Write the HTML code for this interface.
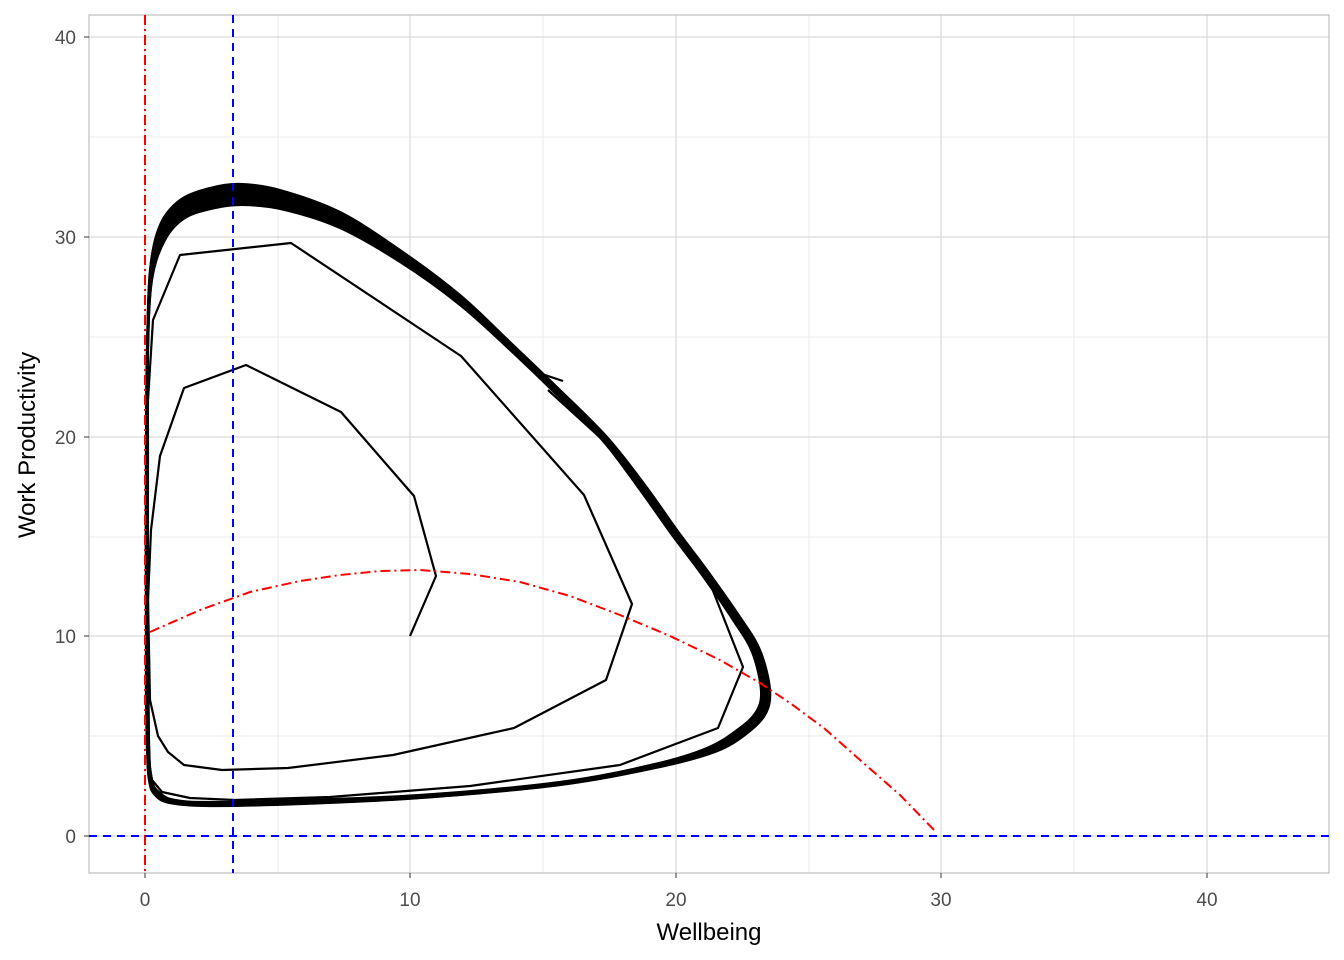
<!DOCTYPE html>
<html><head><style>
body{margin:0;background:#fff;}
svg{display:block;font-family:"Liberation Sans",Arial,sans-serif;}
</style></head><body>
<svg id="s" width="1344" height="960" viewBox="0 0 1344 960">
<rect x="0" y="0" width="1344" height="960" fill="#fff"/>
<g stroke="#ebebeb" stroke-width="1">
<line x1="278" y1="15" x2="278" y2="873"/><line x1="543" y1="15" x2="543" y2="873"/><line x1="809" y1="15" x2="809" y2="873"/><line x1="1074" y1="15" x2="1074" y2="873"/>
<line x1="89" y1="736" x2="1329" y2="736"/><line x1="89" y1="537" x2="1329" y2="537"/><line x1="89" y1="337" x2="1329" y2="337"/><line x1="89" y1="137" x2="1329" y2="137"/>
</g>
<g stroke="#d9d9d9" stroke-width="1.2">
<line x1="145" y1="15" x2="145" y2="873"/><line x1="410" y1="15" x2="410" y2="873"/><line x1="676" y1="15" x2="676" y2="873"/><line x1="941" y1="15" x2="941" y2="873"/><line x1="1207" y1="15" x2="1207" y2="873"/>
<line x1="89" y1="836" x2="1329" y2="836"/><line x1="89" y1="636" x2="1329" y2="636"/><line x1="89" y1="437" x2="1329" y2="437"/><line x1="89" y1="237" x2="1329" y2="237"/><line x1="89" y1="37" x2="1329" y2="37"/>
</g>
<rect x="89" y="15" width="1240" height="858" fill="none" stroke="#b3b3b3" stroke-width="1"/>
<g id="cyc" fill="none" stroke="#000" stroke-width="2.2" stroke-linejoin="round"></g>
<polyline fill="none" stroke="#000" stroke-width="2.2" stroke-linejoin="round" points="410,636 436,576 414,496 341,412 246,365 184,388 160,456 151,530 148,600 150,700 158,736 168,752 184,765 222,770 288,768 393,755 514,728 606,680 632,604 584,495 461,356 291,243 180,255 153,320 148,400 146,500 146,600 146,700 147,750 152,780 162,792 190,798 235,800 330,797 470,786 620,765 718,728 743,667 706,573 604,441 548,390"/>
<polyline fill="none" stroke="#000" stroke-width="2.2" points="545,375 563,381"/>
<polyline fill="none" stroke="#ff0000" stroke-width="2" stroke-dasharray="10,4,2,4" points="150,632 200,610 250,592 300,581 340,575 380,571 420,570 470,574 520,582 570,596 620,615 670,636 720,660 760,683 790,703 825,729 860,760 900,795 936,832"/>
<line x1="145" y1="15" x2="145" y2="873" stroke="#ff0000" stroke-width="2" stroke-dasharray="10,4,2,4"/>
<line x1="233" y1="15" x2="233" y2="873" stroke="#0000ff" stroke-width="2" stroke-dasharray="8,6"/>
<line x1="89" y1="836" x2="1329" y2="836" stroke="#0000ff" stroke-width="2" stroke-dasharray="8,6"/>
<g stroke="#333" stroke-width="1">
<line x1="145" y1="873" x2="145" y2="878"/><line x1="410" y1="873" x2="410" y2="878"/><line x1="676" y1="873" x2="676" y2="878"/><line x1="941" y1="873" x2="941" y2="878"/><line x1="1207" y1="873" x2="1207" y2="878"/>
<line x1="84" y1="836" x2="89" y2="836"/><line x1="84" y1="636" x2="89" y2="636"/><line x1="84" y1="437" x2="89" y2="437"/><line x1="84" y1="237" x2="89" y2="237"/><line x1="84" y1="37" x2="89" y2="37"/>
</g>
<g fill="#4d4d4d" font-size="19" text-anchor="middle">
<text x="145" y="906">0</text><text x="410" y="906">10</text><text x="676" y="906">20</text><text x="941" y="906">30</text><text x="1207" y="906">40</text>
</g>
<g fill="#4d4d4d" font-size="19" text-anchor="end">
<text x="76" y="843">0</text><text x="76" y="643">10</text><text x="76" y="444">20</text><text x="76" y="244">30</text><text x="76" y="44">40</text>
</g>
<text x="709" y="940" font-size="24" text-anchor="middle" fill="#000">Wellbeing</text>
<text transform="translate(35,445) rotate(-90)" font-size="24" text-anchor="middle" fill="#000">Work Productivity</text>
</svg>
<script>
var o=[[147,350],[150,270],[160,225],[180,200],[210,188],[240,184],[280,190],[340,212],[400,250],[460,295],[510,342],[560,390],[607,437],[645,485],[677,530],[707,570],[740,617],[760,650],[770,690],[765,715],[745,735],[715,752],[660,767],[560,785],[420,798],[300,804],[210,806],[170,803],[155,795],[149,780],[147,740],[146,600],[146,450]];
var n=[[148,350],[152,280],[165,240],[185,218],[215,208],[245,205],[285,210],[340,228],[400,262],[460,305],[510,350],[558,396],[603,441],[640,490],[672,535],[702,575],[733,620],[752,652],[761,690],[756,712],[737,730],[707,748],[655,764],[560,782],[420,795],[300,800],[210,802],[175,800],[160,793],[152,780],[149,740],[148,600],[148,450]];
function cr(p){var L=p.length,d='M'+p[0][0]+','+p[0][1];
for(var i=0;i<L;i++){var p0=p[(i-1+L)%L],p1=p[i],p2=p[(i+1)%L],p3=p[(i+2)%L];
d+=' C'+(p1[0]+(p2[0]-p0[0])/6).toFixed(1)+','+(p1[1]+(p2[1]-p0[1])/6).toFixed(1)+' '+(p2[0]-(p3[0]-p1[0])/6).toFixed(1)+','+(p2[1]-(p3[1]-p1[1])/6).toFixed(1)+' '+p2[0].toFixed(1)+','+p2[1].toFixed(1);}
return d+'Z';}
var g=document.getElementById('cyc'),h='';
for(var k=0;k<=12;k++){var t=k/12,p=[];for(var i=0;i<o.length;i++){p.push([o[i][0]*(1-t)+n[i][0]*t,o[i][1]*(1-t)+n[i][1]*t]);}
h+='<path d="'+cr(p)+'"/>';}
g.innerHTML=h;
</script>
</body></html>
